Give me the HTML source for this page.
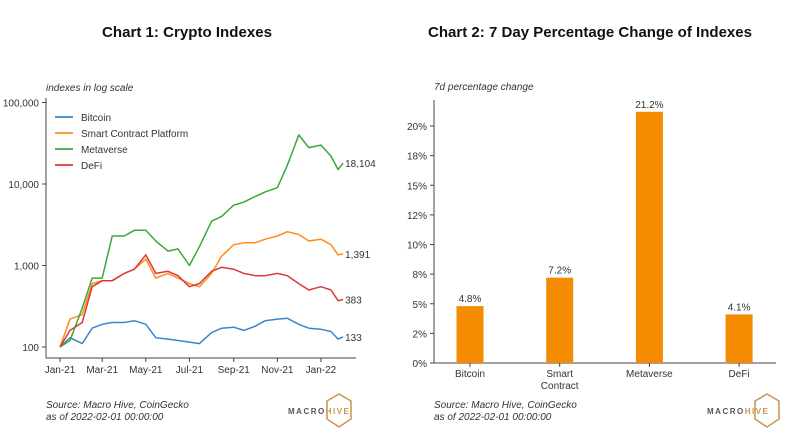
<!DOCTYPE html>
<html><head><meta charset="utf-8"><style>
body{margin:0;background:#fff;}
svg{display:block;font-family:"Liberation Sans",sans-serif;}
</style></head><body>
<svg id="s" width="794" height="441" viewBox="0 0 794 441">
<text x="187" y="37" text-anchor="middle" font-size="15" font-weight="bold" textLength="170" lengthAdjust="spacingAndGlyphs" fill="#111">Chart 1: Crypto Indexes</text>
<text x="590" y="37" text-anchor="middle" font-size="15" font-weight="bold" textLength="324" lengthAdjust="spacingAndGlyphs" fill="#111">Chart 2: 7 Day Percentage Change of Indexes</text>
<text x="46" y="91" font-size="10" font-style="italic" fill="#333">indexes in log scale</text>
<text x="434" y="90" font-size="10" font-style="italic" fill="#333">7d percentage change</text>
<g id="c1"></g>
<g id="c2"></g>
<g font-size="10" font-style="italic" fill="#333">
<text x="46" y="408">Source: Macro Hive, CoinGecko</text>
<text x="46" y="420">as of 2022-02-01 00:00:00</text>
<text x="434" y="408">Source: Macro Hive, CoinGecko</text>
<text x="434" y="420">as of 2022-02-01 00:00:00</text>
</g>
<g>
<polygon points="339,394 351,401 351,419 339,427 327,419 327,401" fill="none" stroke="#c8944e" stroke-width="1.5"/>
<text x="288" y="414" font-size="8" font-weight="bold" letter-spacing="1.5" fill="#555">MACRO<tspan fill="#c8944e">HIVE</tspan></text>
</g>
<g>
<polygon points="767,394 779,401 779,419 767,427 755,419 755,401" fill="none" stroke="#c8944e" stroke-width="1.5"/>
<text x="707" y="414" font-size="8" font-weight="bold" letter-spacing="1.5" fill="#555">MACRO<tspan fill="#c8944e">HIVE</tspan></text>
</g>
</svg>
<script>
const days=[0,14,31,45,59,73,90,104,120,134,151,165,181,195,212,226,243,257,273,287,304,318,334,348,365,379,389,396];
const bitcoin=[100,130,110,170,190,200,200,210,190,130,125,120,115,110,150,170,175,160,180,210,220,225,190,170,165,155,125,133];
const smart=[100,220,250,600,650,650,800,900,1200,700,800,700,600,550,800,1300,1800,1900,1900,2100,2300,2600,2400,2000,2100,1800,1350,1391];
const metaverse=[100,120,300,700,700,2300,2300,2700,2700,2000,1500,1600,1000,1700,3500,4000,5500,6000,7000,8000,9000,17000,40000,28000,30000,22000,15000,18104];
const defi=[100,160,200,550,650,650,800,900,1350,800,850,750,550,600,850,950,900,800,750,750,800,750,600,500,550,500,370,383];
const seriesNames=["Bitcoin","Smart Contract Platform","Metaverse","DeFi"];
const endLabels=["133","1,391","18,104","383"];
const xTickDays=[0,59,120,181,243,304,365];
const xTickLabels=["Jan-21","Mar-21","May-21","Jul-21","Sep-21","Nov-21","Jan-22"];
const yTicks=[100,1000,10000,100000];
const yTickLabels=["100","1,000","10,000","100,000"];
const cats=["Bitcoin","Smart","Metaverse","DeFi"];
const pct=[4.8,7.2,21.2,4.1];
const pctLabels=["4.8%","7.2%","21.2%","4.1%"];
const pTicks=[0,2.5,5,7.5,10,12.5,15,17.5,20];
const pTickLabels=["0%","2%","5%","8%","10%","12%","15%","18%","20%"];

const NS="http://www.w3.org/2000/svg";
function mk(p,t,a,txt){const e=document.createElementNS(NS,t);for(const k in a)e.setAttribute(k,a[k]);if(txt!==undefined)e.textContent=txt;p.appendChild(e);return e;}
const colors=["#3a86c8","#ff8c1a","#3aa83a","#d83a3a"];
const X=d=>60+d*0.715;
const Y=v=>347-(Math.log10(v)-2)*81.5;
const c1=document.getElementById('c1');
let ax=mk(c1,'line',{x1:46,y1:98,x2:46,y2:358,stroke:'#444'});


ax=mk(c1,'line',{x1:46,y1:358,x2:356,y2:358,stroke:'#444'});


yTicks.forEach((v,i)=>{mk(c1,'line',{x1:42,x2:46,y1:Y(v),y2:Y(v),stroke:'#444'});
 const t=mk(c1,'text',{x:39,y:Y(v)+4,'text-anchor':'end','font-size':10,fill:'#333'},yTickLabels[i]);
 
 });
xTickDays.forEach((d,i)=>{mk(c1,'line',{x1:X(d),x2:X(d),y1:358,y2:362,stroke:'#444'});
 const t=mk(c1,'text',{x:X(d),y:373,'text-anchor':'middle','font-size':10,fill:'#333'},xTickLabels[i]);
 
 });
[bitcoin,smart,metaverse,defi].forEach((s,k)=>{
 const pts=s.map((v,i)=>X(days[i]).toFixed(1)+','+Y(v).toFixed(1)).join(' ');
 const pl=mk(c1,'polyline',{points:pts,fill:'none',stroke:colors[k],'stroke-width':1.5,'stroke-linejoin':'round'});
 
 
 const t=mk(c1,'text',{x:X(days[days.length-1])+2,y:Y(s[s.length-1])+4,'font-size':10,fill:'#333'},endLabels[k]);
 
 
 const g=mk(c1,'g',{});
 
 
 const ly=117+k*16;
 mk(g,'line',{x1:55,x2:73,y1:ly,y2:ly,stroke:colors[k],'stroke-width':1.8});
 mk(g,'text',{x:81,y:ly+4,'font-size':10,fill:'#333'},seriesNames[k]);
});
const c2=document.getElementById('c2');
const PY=v=>363-v*11.85;
const BX=i=>470+i*89.7;
ax=mk(c2,'line',{x1:434,y1:100,x2:434,y2:363,stroke:'#444'});


ax=mk(c2,'line',{x1:434,y1:363,x2:776,y2:363,stroke:'#444'});


pTicks.forEach((v,i)=>{mk(c2,'line',{x1:430,x2:434,y1:PY(v),y2:PY(v),stroke:'#444'});
 const t=mk(c2,'text',{x:427,y:PY(v)+4,'text-anchor':'end','font-size':10,fill:'#333'},pTickLabels[i]);
 
 });
pct.forEach((v,i)=>{
 const r=mk(c2,'rect',{x:BX(i)-13.5,y:PY(v),width:27,height:363-PY(v),fill:'#f58b00'});
 
 
 const t=mk(c2,'text',{x:BX(i),y:PY(v)-4,'text-anchor':'middle','font-size':10,fill:'#333'},pctLabels[i]);
 
 
 mk(c2,'line',{x1:BX(i),x2:BX(i),y1:363,y2:367,stroke:'#444'});
 const c=mk(c2,'text',{x:BX(i),y:377,'text-anchor':'middle','font-size':10,fill:'#333'},cats[i]);
 
 
});
const c=mk(c2,'text',{x:BX(1),y:389,'text-anchor':'middle','font-size':10,fill:'#333'},'Contract');


</script>
</body></html>
